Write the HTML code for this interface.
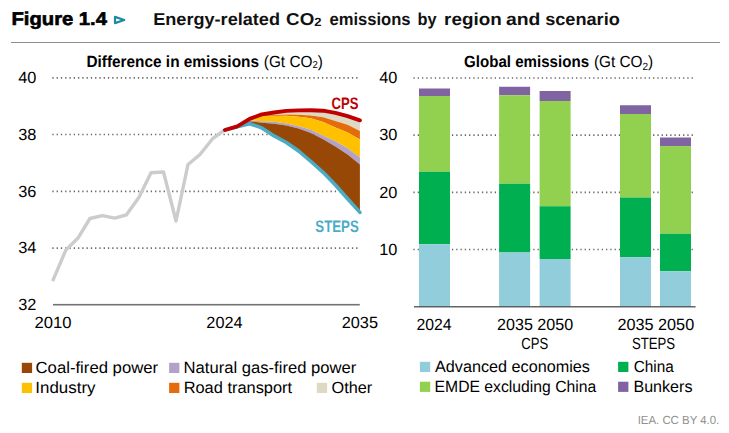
<!DOCTYPE html>
<html><head><meta charset="utf-8"><title>Figure 1.4</title>
<style>html,body{margin:0;padding:0;background:#fff}svg{display:block}text{font-family:"Liberation Sans",sans-serif;text-rendering:geometricPrecision}</style>
</head><body>
<svg width="729" height="433" viewBox="0 0 729 433">
<rect width="729" height="433" fill="#fff"/>
<text x="11.46" y="25.0" font-size="18.4" font-weight="bold" stroke="#000" stroke-width="0.6" fill="#000" textLength="95.53" lengthAdjust="spacingAndGlyphs">Figure 1.4</text>
<path d="M115,16.9 L124.3,20 L115,23.1 Z" fill="none" stroke="#1f8aa6" stroke-width="2.2" stroke-linejoin="round"/>
<text x="153.21" y="25.3" font-size="17.2" font-weight="bold" fill="#111" textLength="126.78" lengthAdjust="spacingAndGlyphs">Energy-related</text>
<text x="286.13" y="25.3" font-size="17.2" font-weight="bold" fill="#111" textLength="35.38" lengthAdjust="spacingAndGlyphs">CO<tspan font-size="12" dy="1">2</tspan></text>
<text x="329.48" y="25.3" font-size="17.2" font-weight="bold" fill="#111" textLength="81.09" lengthAdjust="spacingAndGlyphs">emissions</text>
<text x="417.43" y="25.3" font-size="17.2" font-weight="bold" fill="#111" textLength="19.04" lengthAdjust="spacingAndGlyphs">by</text>
<text x="444.09" y="25.3" font-size="17.2" font-weight="bold" fill="#111" textLength="57.61" lengthAdjust="spacingAndGlyphs">region</text>
<text x="505.93" y="25.3" font-size="17.2" font-weight="bold" fill="#111" textLength="34.45" lengthAdjust="spacingAndGlyphs">and</text>
<text x="545.19" y="25.3" font-size="17.2" font-weight="bold" fill="#111" textLength="74.61" lengthAdjust="spacingAndGlyphs">scenario</text>
<rect x="11" y="42" width="709" height="1" fill="#8e8e8e"/>
<text x="86.46" y="66.8" font-size="16.2" font-weight="bold" fill="#000" textLength="172.5" lengthAdjust="spacingAndGlyphs">Difference in emissions</text>
<text x="263.79" y="66.8" font-size="16.2" fill="#000" textLength="59.11" lengthAdjust="spacingAndGlyphs">(Gt CO<tspan font-size="10" dy="1.5">2</tspan><tspan dy="-1.5">)</tspan></text>
<line x1="52.3" x2="358" y1="77.9" y2="77.9" stroke="#686868" stroke-width="1.6" stroke-dasharray="1.3,2.98"/>
<line x1="52.3" x2="358" y1="134.5" y2="134.5" stroke="#686868" stroke-width="1.6" stroke-dasharray="1.3,2.98"/>
<line x1="52.3" x2="358" y1="191.4" y2="191.4" stroke="#686868" stroke-width="1.6" stroke-dasharray="1.3,2.98"/>
<line x1="52.3" x2="358" y1="248.1" y2="248.1" stroke="#686868" stroke-width="1.6" stroke-dasharray="1.3,2.98"/>
<text x="18.17" y="82.9" font-size="16.2" fill="#000" textLength="18.17" lengthAdjust="spacingAndGlyphs">40</text>
<text x="18.17" y="139.6" font-size="16.2" fill="#000" textLength="18.17" lengthAdjust="spacingAndGlyphs">38</text>
<text x="18.17" y="197.0" font-size="16.2" fill="#000" textLength="18.17" lengthAdjust="spacingAndGlyphs">36</text>
<text x="18.17" y="253.0" font-size="16.2" fill="#000" textLength="18.17" lengthAdjust="spacingAndGlyphs">34</text>
<text x="18.17" y="310.0" font-size="16.2" fill="#000" textLength="18.17" lengthAdjust="spacingAndGlyphs">32</text>
<rect x="53" y="303.9" width="306.8" height="1.6" fill="#737373"/>
<text x="34.45" y="328.4" font-size="16.2" fill="#000" textLength="37.05" lengthAdjust="spacingAndGlyphs">2010</text>
<text x="206.38" y="328.4" font-size="16.2" fill="#000" textLength="36.14" lengthAdjust="spacingAndGlyphs">2024</text>
<text x="341.73" y="328.4" font-size="16.2" fill="#000" textLength="36.26" lengthAdjust="spacingAndGlyphs">2035</text>
<polygon points="225.0,130.0 237.3,126.3 249.6,118.8 261.8,114.4 274.1,112.5 286.3,110.9 298.6,110.4 310.9,110.3 323.1,110.7 335.4,112.9 347.6,116.2 359.9,120.3 359.9,131.0 347.6,124.7 335.4,120.9 323.1,117.3 310.9,115.5 298.6,114.8 286.3,114.6 274.1,115.2 261.8,115.3 249.6,118.9 237.3,126.3 225.0,130.0" fill="#ddd9c3"/>
<polygon points="225.0,130.0 237.3,126.3 249.6,118.9 261.8,115.3 274.1,115.2 286.3,114.6 298.6,114.8 310.9,115.5 323.1,117.3 335.4,120.9 347.6,124.7 359.9,131.0 359.9,139.5 347.6,132.4 335.4,127.6 323.1,121.9 310.9,118.3 298.6,116.8 286.3,115.8 274.1,116.0 261.8,116.0 249.6,119.0 237.3,126.3 225.0,130.0" fill="#e46c0a"/>
<polygon points="225.0,130.0 237.3,126.3 249.6,119.0 261.8,116.0 274.1,116.0 286.3,115.8 298.6,116.8 310.9,118.3 323.1,121.9 335.4,127.6 347.6,132.4 359.9,139.5 359.9,157.4 347.6,148.3 335.4,141.3 323.1,135.8 310.9,129.8 298.6,126.2 286.3,123.4 274.1,121.8 261.8,121.3 249.6,120.6 237.3,126.3 225.0,130.0" fill="#ffc000"/>
<polygon points="225.0,130.0 237.3,126.3 249.6,120.6 261.8,121.3 274.1,121.8 286.3,123.4 298.6,126.2 310.9,129.8 323.1,135.8 335.4,141.3 347.6,148.3 359.9,157.4 359.9,164.5 347.6,154.4 335.4,146.5 323.1,139.2 310.9,133.0 298.6,128.5 286.3,125.5 274.1,123.8 261.8,122.8 249.6,121.2 237.3,126.4 225.0,130.0" fill="#b3a2c7"/>
<polygon points="225.0,130.0 237.3,126.4 249.6,121.2 261.8,122.8 274.1,123.8 286.3,125.5 298.6,128.5 310.9,133.0 323.1,139.2 335.4,146.5 347.6,154.4 359.9,164.5 359.9,212.4 347.6,198.8 335.4,185.0 323.1,172.3 310.9,161.5 298.6,151.0 286.3,142.5 274.1,135.9 261.8,127.9 249.6,123.7 237.3,126.8 225.0,130.0" fill="#974806"/>
<polyline points="52.6,281.2 65.8,250.1 78.3,237.7 89.9,218.5 102.4,215.6 114.8,218.1 126.5,214.8 139.0,197.3 151.0,172.8 163.5,172.0 176.0,221.0 188.0,164.5 200.0,154.5 212.6,138.7 224.6,130.0" fill="none" stroke="#cccccc" stroke-width="3.4" stroke-linejoin="round" stroke-linecap="butt"/>
<polyline points="225.0,130.0 237.3,126.8 249.6,123.7 261.8,127.9 274.1,135.9 286.3,142.5 298.6,151.0 310.9,161.5 323.1,172.3 335.4,185.0 347.6,198.8 359.9,212.4" fill="none" stroke="#4bacc6" stroke-width="3.6" stroke-linejoin="round" stroke-linecap="round"/>
<polyline points="225.0,130.0 237.3,126.3 249.6,118.8 261.8,114.4 274.1,112.5 286.3,110.9 298.6,110.4 310.9,110.3 323.1,110.7 335.4,112.9 347.6,116.2 359.9,120.3" fill="none" stroke="#c00000" stroke-width="3.9" stroke-linejoin="round" stroke-linecap="round"/>
<text x="331.51" y="108.8" font-size="16.6" font-weight="bold" fill="#c00000" textLength="26.95" lengthAdjust="spacingAndGlyphs">CPS</text>
<text x="315.35" y="232.0" font-size="16.6" font-weight="bold" fill="#4bacc6" textLength="43.43" lengthAdjust="spacingAndGlyphs">STEPS</text>
<rect x="21.8" y="362.8" width="10.3" height="10.2" fill="#974806"/>
<text x="35.53" y="373.0" font-size="16.2" fill="#000" textLength="122.64" lengthAdjust="spacingAndGlyphs">Coal-fired power</text>
<rect x="169.1" y="362.8" width="10.3" height="10.2" fill="#b3a2c7"/>
<text x="183.61" y="373.0" font-size="16.2" fill="#000" textLength="172.72" lengthAdjust="spacingAndGlyphs">Natural gas-fired power</text>
<rect x="21.8" y="382.8" width="10.3" height="10.2" fill="#ffc000"/>
<text x="35.35" y="392.8" font-size="16.2" fill="#000" textLength="60.13" lengthAdjust="spacingAndGlyphs">Industry</text>
<rect x="169.1" y="382.8" width="10.3" height="10.2" fill="#e46c0a"/>
<text x="183.67" y="392.8" font-size="16.2" fill="#000" textLength="108.44" lengthAdjust="spacingAndGlyphs">Road transport</text>
<rect x="316.8" y="382.8" width="10.3" height="10.2" fill="#ddd9c3"/>
<text x="331.57" y="392.8" font-size="16.2" fill="#000" textLength="40.74" lengthAdjust="spacingAndGlyphs">Other</text>
<text x="464.05" y="66.8" font-size="16.2" font-weight="bold" fill="#000" textLength="125.01" lengthAdjust="spacingAndGlyphs">Global emissions</text>
<text x="593.88" y="66.8" font-size="16.2" fill="#000" textLength="59.35" lengthAdjust="spacingAndGlyphs">(Gt CO<tspan font-size="10.5" dy="3.3">2</tspan><tspan dy="-3.3">)</tspan></text>
<line x1="413.4" x2="694" y1="78.0" y2="78.0" stroke="#686868" stroke-width="1.6" stroke-dasharray="1.3,2.98"/>
<line x1="413.4" x2="694" y1="135.1" y2="135.1" stroke="#686868" stroke-width="1.6" stroke-dasharray="1.3,2.98"/>
<line x1="413.4" x2="694" y1="192.4" y2="192.4" stroke="#686868" stroke-width="1.6" stroke-dasharray="1.3,2.98"/>
<line x1="413.4" x2="694" y1="249.5" y2="249.5" stroke="#686868" stroke-width="1.6" stroke-dasharray="1.3,2.98"/>
<text x="379.29" y="83.1" font-size="16.2" fill="#000" textLength="18.16" lengthAdjust="spacingAndGlyphs">40</text>
<text x="379.29" y="140.2" font-size="16.2" fill="#000" textLength="18.16" lengthAdjust="spacingAndGlyphs">30</text>
<text x="379.29" y="197.5" font-size="16.2" fill="#000" textLength="18.16" lengthAdjust="spacingAndGlyphs">20</text>
<text x="379.29" y="254.6" font-size="16.2" fill="#000" textLength="18.16" lengthAdjust="spacingAndGlyphs">10</text>
<rect x="419.0" y="88.5" width="31" height="7.50" fill="#8064a2"/>
<rect x="419.0" y="96" width="31" height="75.75" fill="#92d050"/>
<rect x="419.0" y="171.75" width="31" height="72.50" fill="#00b050"/>
<rect x="419.0" y="244.25" width="31" height="62.25" fill="#92cddc"/>
<rect x="499.1" y="86.75" width="31" height="8.50" fill="#8064a2"/>
<rect x="499.1" y="95.25" width="31" height="88.50" fill="#92d050"/>
<rect x="499.1" y="183.75" width="31" height="68.75" fill="#00b050"/>
<rect x="499.1" y="252.5" width="31" height="54.00" fill="#92cddc"/>
<rect x="539.6" y="91" width="31" height="10.00" fill="#8064a2"/>
<rect x="539.6" y="101.0" width="31" height="105.25" fill="#92d050"/>
<rect x="539.6" y="206.25" width="31" height="52.75" fill="#00b050"/>
<rect x="539.6" y="259" width="31" height="47.50" fill="#92cddc"/>
<rect x="620.0" y="105.25" width="31" height="8.75" fill="#8064a2"/>
<rect x="620.0" y="114.0" width="31" height="83.50" fill="#92d050"/>
<rect x="620.0" y="197.5" width="31" height="59.60" fill="#00b050"/>
<rect x="620.0" y="257.1" width="31" height="49.40" fill="#92cddc"/>
<rect x="660.0" y="137.5" width="31" height="8.60" fill="#8064a2"/>
<rect x="660.0" y="146.1" width="31" height="87.65" fill="#92d050"/>
<rect x="660.0" y="233.75" width="31" height="37.50" fill="#00b050"/>
<rect x="660.0" y="271.25" width="31" height="35.25" fill="#92cddc"/>
<rect x="414" y="306.2" width="281.6" height="1.2" fill="#404040"/>
<text x="416.47" y="330.2" font-size="16.2" fill="#000" textLength="35.11" lengthAdjust="spacingAndGlyphs">2024</text>
<text x="497.12" y="330.2" font-size="16.2" fill="#000" textLength="75.98" lengthAdjust="spacingAndGlyphs">2035 2050</text>
<text x="617.46" y="330.2" font-size="16.2" fill="#000" textLength="76.71" lengthAdjust="spacingAndGlyphs">2035 2050</text>
<text x="521.24" y="348.8" font-size="16.2" fill="#000" textLength="26.96" lengthAdjust="spacingAndGlyphs">CPS</text>
<text x="631.92" y="348.8" font-size="16.2" fill="#000" textLength="43.25" lengthAdjust="spacingAndGlyphs">STEPS</text>
<rect x="419.9" y="361.8" width="10.3" height="10.2" fill="#92cddc"/>
<text x="435.0" y="371.7" font-size="16.2" fill="#000" textLength="154.94" lengthAdjust="spacingAndGlyphs">Advanced economies</text>
<rect x="618.1" y="361.8" width="10.3" height="10.2" fill="#00b050"/>
<text x="633.63" y="371.7" font-size="16.2" fill="#000" textLength="40.08" lengthAdjust="spacingAndGlyphs">China</text>
<rect x="419.9" y="381.7" width="10.3" height="10.2" fill="#92d050"/>
<text x="434.57" y="391.5" font-size="16.2" fill="#000" textLength="161.69" lengthAdjust="spacingAndGlyphs">EMDE excluding China</text>
<rect x="618.1" y="381.7" width="10.3" height="10.2" fill="#8064a2"/>
<text x="633.42" y="391.5" font-size="16.2" fill="#000" textLength="59.06" lengthAdjust="spacingAndGlyphs">Bunkers</text>
<text x="637.67" y="423.8" font-size="11.8" fill="#8f8f8f" textLength="81.58" lengthAdjust="spacingAndGlyphs">IEA. CC BY 4.0.</text>
</svg></body></html>
